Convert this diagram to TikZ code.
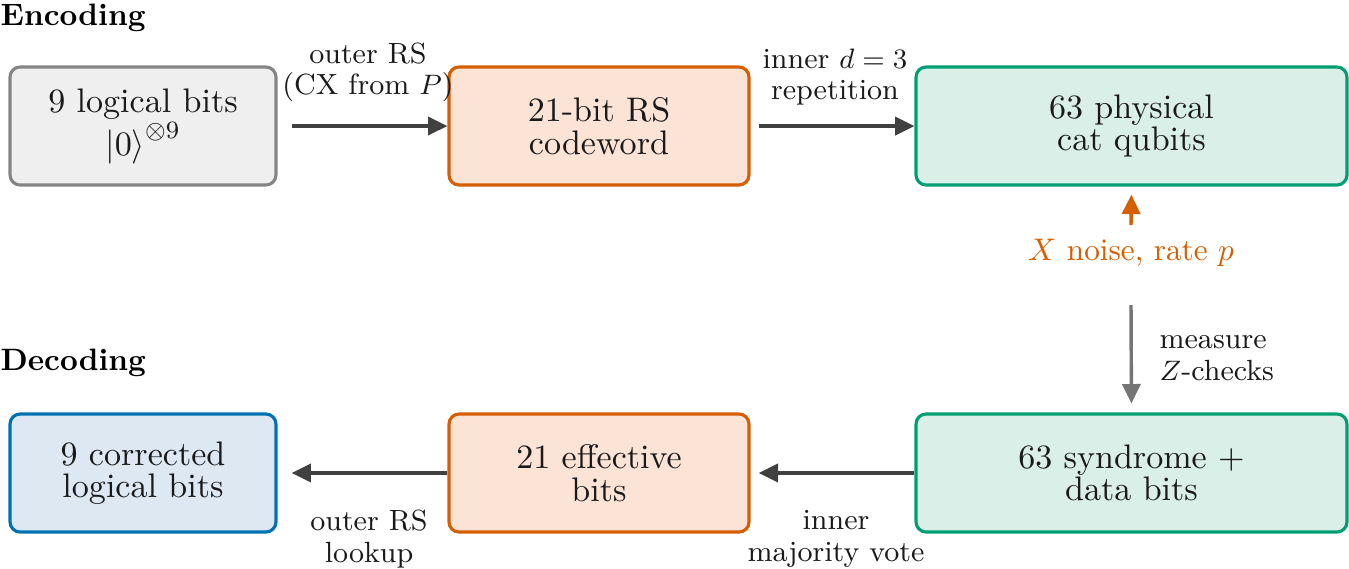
\documentclass[tikz,border=0pt]{standalone}
\usetikzlibrary{arrows.meta}
\definecolor{cgrayb}{HTML}{858585}
\definecolor{cgrayf}{HTML}{EFEFEF}
\definecolor{corb}{HTML}{D55E00}
\definecolor{corf}{HTML}{FBE3D6}
\definecolor{cgrb}{HTML}{009E73}
\definecolor{cgrf}{HTML}{D9EFE7}
\definecolor{cblb}{HTML}{0072B2}
\definecolor{cblf}{HTML}{DDE8F3}
\definecolor{carr}{HTML}{404040}
\definecolor{cgarr}{HTML}{757575}
\definecolor{ctxt}{HTML}{1A1A1A}
\tikzset{
  box/.style={draw, line width=1pt, rounded corners=3.2pt, align=center, text=ctxt,
    minimum height=37.76pt, inner sep=0pt, font=\fontsize{10.9}{10.4}\selectfont},
  lbl/.style={align=center, text=ctxt, inner sep=0pt, font=\fontsize{9.35}{10}\selectfont},
  head/.style={anchor=base west, inner sep=0pt, font=\fontsize{9.9}{12}\selectfont\bfseries},
  arr/.style={-{Triangle[length=6.2pt,width=5.8pt]}, line width=1.1pt, draw=carr},
}
\begin{document}
\begin{tikzpicture}[x=0.32pt, y=-0.32pt]
\useasboundingbox (0,0) rectangle (1349,568);
\node[head] (enc) at (0,25) {Encoding};
\node[head] (dec) at (0,370) {Decoding};

\node[box, draw=cgrayb, fill=cgrayf, minimum width=85.1pt] (b1) at (143,126) {9 logical bits\\$\bigl|0\bigr\rangle^{\otimes 9}$};
\node[box, draw=corb, fill=corf, minimum width=96pt] (b2) at (599,126) {21-bit RS\\codeword};
\node[box, draw=cgrb, fill=cgrf, minimum width=137.9pt] (b3) at (1131.5,126) {63 physical\\cat qubits};

\node[box, draw=cblb, fill=cblf, minimum width=85.1pt] (b4) at (143,473) {9 corrected\\logical bits};
\node[box, draw=corb, fill=corf, minimum width=96pt] (b5) at (599,473) {21 effective\\bits};
\node[box, draw=cgrb, fill=cgrf, minimum width=137.9pt] (b6) at (1131.5,473) {63 syndrome +\\data bits};

\draw[arr, shorten <=4.5pt] (b1) -- (b2);
\draw[arr, shorten <=2.6pt] (b2) -- (b3);
\draw[arr, shorten >=2.6pt] (b6) -- (b5);
\draw[arr, shorten >=4.5pt] (b5) -- (b4);

\node[lbl] (l1) at (368,72) {outer RS\\(CX from $P$)};
\node[lbl] (l2) at (835,77) {inner $d=3$\\repetition};
\node[lbl] (l3) at (836,539) {inner\\majority vote};
\node[lbl] (l4) at (369,539) {outer RS\\lookup};

\node[text=corb, inner sep=0pt, font=\fontsize{10}{12}\selectfont] (nz) at (1131,253) {$X$ noise, rate $p$};
\coordinate (nzt) at (1131,225);
\draw[arr, draw=corb, shorten >=2.6pt] (nzt) -- (b3.south);

\coordinate (mz) at (1131,305);
\draw[arr, draw=cgarr, shorten >=2.9pt] (mz) -- (b6.north);
\node[lbl, align=left, anchor=west] (l5) at (1159,358) {measure\\$Z$-checks};
\end{tikzpicture}
\end{document}
